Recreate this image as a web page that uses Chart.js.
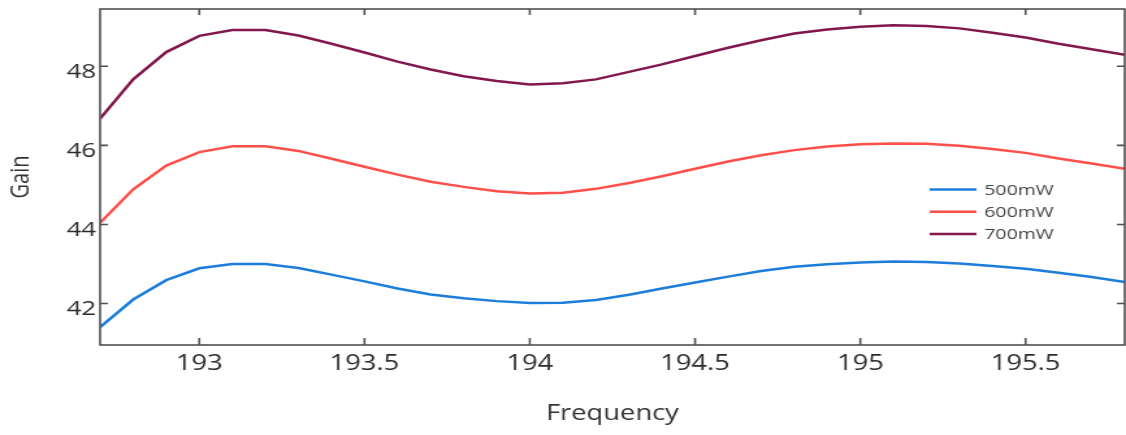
<!DOCTYPE html>
<html lang="en">
<head>
  <meta charset="UTF-8" />
  <title>Gain vs Frequency</title>
  <script src="https://cdn.jsdelivr.net/npm/chart.js"></script>
  <style>
    html, body { margin: 0; padding: 0; background: #fff; }
    /* the source picture is stretched sideways, so the canvas is drawn narrower and widened by css */
    #chart { display: block; width: 1126px !important; height: 435px !important; }
  </style>
</head>
<body>
  <canvas id="chart" width="866" height="435" style="width:1126px;height:435px"></canvas>

  <script>
    const frequency = [192.7, 192.8, 192.9, 193.0, 193.1, 193.2, 193.3, 193.4, 193.5, 193.6, 193.7,
                       193.8, 193.9, 194.0, 194.1, 194.2, 194.3, 194.4, 194.5, 194.6, 194.7, 194.8,
                       194.9, 195.0, 195.1, 195.2, 195.3, 195.4, 195.5, 195.6, 195.7, 195.8];

    const gain500 = [41.40, 42.10, 42.59, 42.89, 43.00, 43.00, 42.90, 42.73, 42.56, 42.38, 42.23,
                     42.13, 42.06, 42.01, 42.02, 42.09, 42.22, 42.38, 42.53, 42.68, 42.82, 42.93,
                     42.99, 43.04, 43.06, 43.05, 43.01, 42.95, 42.88, 42.78, 42.67, 42.54];

    const gain600 = [44.04, 44.89, 45.49, 45.83, 45.98, 45.98, 45.86, 45.66, 45.46, 45.26, 45.08,
                     44.95, 44.84, 44.78, 44.80, 44.90, 45.05, 45.22, 45.41, 45.59, 45.75, 45.88,
                     45.97, 46.03, 46.05, 46.04, 45.99, 45.91, 45.81, 45.67, 45.54, 45.41];

    const gain700 = [46.68, 47.67, 48.36, 48.77, 48.92, 48.92, 48.78, 48.57, 48.35, 48.12, 47.92,
                     47.75, 47.63, 47.54, 47.57, 47.67, 47.86, 48.05, 48.26, 48.47, 48.66, 48.83,
                     48.93, 49.00, 49.04, 49.02, 48.96, 48.85, 48.73, 48.57, 48.43, 48.29];

    const seriesLabels = ['500mW', '600mW', '700mW'];
    const seriesColors = ['#1c7ddb', '#fe4f4b', '#82174e'];
    const xTicks = [193, 193.5, 194, 194.5, 195, 195.5];
    const yTicks = [42, 44, 46, 48];

    const FONT = '"Open Sans", "Noto Sans", sans-serif';

    function toPoints(values) {
      return frequency.map((f, i) => ({ x: f, y: values[i] }));
    }

    // box round the plot, inward tick marks and the legend inside the plot
    const frameAndLegend = {
      id: 'frameAndLegend',
      afterDatasetsDraw(chart) {
        const { ctx, chartArea: a, scales: { x, y } } = chart;
        ctx.save();

        ctx.strokeStyle = '#505050';
        ctx.lineWidth = 1.6;
        ctx.strokeRect(a.left, a.top, a.right - a.left, a.bottom - a.top);

        ctx.beginPath();
        x.ticks.forEach(t => {
          const px = x.getPixelForValue(t.value);
          ctx.moveTo(px, a.bottom);
          ctx.lineTo(px, a.bottom - 7);
          ctx.moveTo(px, a.top);
          ctx.lineTo(px, a.top + 6);
        });
        y.ticks.forEach(t => {
          const py = y.getPixelForValue(t.value);
          ctx.moveTo(a.left, py);
          ctx.lineTo(a.left + 6, py);
          ctx.moveTo(a.right, py);
          ctx.lineTo(a.right - 6, py);
        });
        ctx.stroke();

        const lx = a.right - 150;
        const ly = 189.5;
        ctx.font = '15px ' + FONT;
        ctx.textBaseline = 'middle';
        ctx.textAlign = 'left';
        chart.data.datasets.forEach((ds, i) => {
          const rowY = ly + i * 22.3;
          ctx.strokeStyle = ds.borderColor;
          ctx.lineWidth = 2.5;
          ctx.beginPath();
          ctx.moveTo(lx, rowY);
          ctx.lineTo(lx + 36, rowY);
          ctx.stroke();
          ctx.fillStyle = '#444';
          ctx.fillText(ds.label, lx + 42, rowY + 1);
        });

        ctx.restore();
      }
    };

    new Chart(document.getElementById('chart'), {
      type: 'line',
      data: {
        datasets: [
          { label: seriesLabels[0], data: toPoints(gain500), borderColor: seriesColors[0] },
          { label: seriesLabels[1], data: toPoints(gain600), borderColor: seriesColors[1] },
          { label: seriesLabels[2], data: toPoints(gain700), borderColor: seriesColors[2] }
        ]
      },
      options: {
        responsive: false,
        devicePixelRatio: 1,
        animation: false,
        layout: { padding: { top: 9, right: 1, left: 0, bottom: 0 } },
        elements: {
          line: { borderWidth: 2.5, tension: 0, fill: false },
          point: { radius: 0 }
        },
        plugins: {
          legend: { display: false },
          tooltip: { enabled: false }
        },
        scales: {
          x: {
            type: 'linear',
            min: 192.7,
            max: 195.8,
            afterBuildTicks: scale => { scale.ticks = xTicks.map(v => ({ value: v })); },
            afterFit: scale => {
              scale.height = 90;
              scale.paddingLeft = 0;
              scale.paddingRight = 0;
            },
            grid: { display: false, drawTicks: false },
            border: { display: false },
            ticks: {
              padding: 6,
              color: '#2b2b2b',
              font: { family: FONT, size: 21 },
              callback: v => String(v)
            },
            title: {
              display: true,
              text: 'Frequency',
              color: '#333',
              font: { family: FONT, size: 21 },
              padding: { top: 0, bottom: 8 }
            }
          },
          y: {
            min: 40.95,
            max: 49.45,
            afterBuildTicks: scale => { scale.ticks = yTicks.map(v => ({ value: v })); },
            afterFit: scale => {
              scale.width = 77;
              scale.paddingTop = 0;
              scale.paddingBottom = 0;
            },
            grid: { display: false, drawTicks: false },
            border: { display: false },
            ticks: {
              padding: 3,
              labelOffset: 6,
              color: '#2b2b2b',
              font: { family: FONT, size: 20 },
              callback: v => String(v)
            },
            title: {
              display: true,
              text: 'Gain',
              color: '#333',
              font: { family: FONT, size: 20 },
              padding: { top: 4, bottom: 0 }
            }
          }
        }
      },
      plugins: [frameAndLegend]
    });
  </script>
</body>
</html>
